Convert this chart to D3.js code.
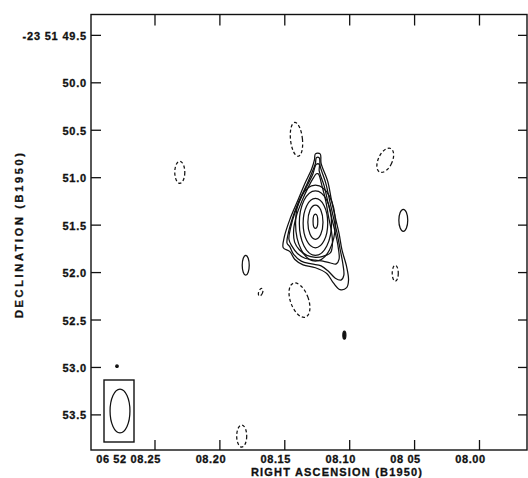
<!DOCTYPE html>
<html>
<head>
<meta charset="utf-8">
<script src="https://cdn.jsdelivr.net/npm/d3@7"></script>
<style>
  body { margin: 0; background: #fff; }
  svg { display: block; }
  text { font-family: "Liberation Sans", Arial, sans-serif; font-weight: bold; fill: #111; stroke: #111; stroke-width: 0.3; }
  .frame { fill: none; stroke: #111; stroke-width: 1.4; }
  .tick { stroke: #111; stroke-width: 1.3; }
  .pos { fill: none; stroke: #111; stroke-width: 1.25; }
  .neg { fill: none; stroke: #111; stroke-width: 1.25; stroke-dasharray: 3.2 2.4; }
</style>
</head>
<body>
<svg id="map" width="528" height="478"></svg>
<script>
// RA in seconds of 06h52m, Dec in arcsec of -23d51m
const raTicks = [8.25, 8.20, 8.15, 8.10, 8.05, 8.00];
const raTickLabels = ["06 52 08.25", "08.20", "08.15", "08.10", "08 05", "08.00"];
const decTicks = [49.5, 50.0, 50.5, 51.0, 51.5, 52.0, 52.5, 53.0, 53.5];
const decTickLabels = ["-23 51 49.5", "50.0", "50.5", "51.0", "51.5", "52.0", "52.5", "53.0", "53.5"];

const peak = {ra: 8.1264, dec: 51.459};

// outer contours of the source, offsets from peak in arcsec [west, south]
const sourceContours = [
    [[0,-.71],[.05,-.71],[.06,-.61],[.13,-.42],[.17,-.22],[.21,-.04],[.25,.13],[.28,.30],[.33,.48],[.35,.62],[.33,.70],[.26,.72],[.19,.65],[.12,.55],[0,.49],[-.13,.46],[-.22,.40],[-.27,.32],[-.34,.28],[-.33,.17],[-.27,-.02],[-.19,-.21],[-.11,-.40],[-.04,-.55],[-.01,-.65]],
    [[.01,-.67],[.04,-.67],[.05,-.58],[.11,-.40],[.15,-.22],[.19,-.04],[.23,.13],[.26,.29],[.29,.45],[.30,.57],[.27,.62],[.21,.60],[.14,.53],[.06,.47],[-.04,.45],[-.15,.42],[-.23,.35],[-.27,.27],[-.30,.23],[-.29,.14],[-.24,-.04],[-.17,-.22],[-.09,-.39],[-.03,-.53],[0,-.61]],
    [[.01,-.60],[.04,-.60],[.04,-.53],[.09,-.38],[.13,-.21],[.17,-.04],[.21,.12],[.24,.27],[.25,.40],[.22,.45],[.16,.44],[.08,.42],[0,.41],[-.11,.39],[-.19,.34],[-.25,.26],[-.28,.19],[-.26,.06],[-.22,-.08],[-.15,-.25],[-.08,-.39],[-.03,-.49]],
    [[.01,-.50],[.03,-.50],[.07,-.37],[.11,-.21],[.14,-.04],[.17,.11],[.18,.23],[.16,.33],[.08,.37],[0,.38],[-.09,.36],[-.17,.30],[-.22,.22],[-.23,.09],[-.20,-.06],[-.14,-.22],[-.07,-.37],[-.02,-.46]]
];

// inner rings round the peak: offset south, semi-axes (arcsec)
const sourceRings = [
    {dy: .02, rx: .21, ry: .40},
    {dy: .02, rx: .17, ry: .34},
    {dy: .02, rx: .13, ry: .26},
    {dy: .01, rx: .08, ry: .18},
    {dy: 0, rx: .025, ry: .075}
];

// small isolated contours, semi-axes in arcsec, neg = dashed
const blobs = [
    {ra: 8.2309, dec: 50.943, rx: .053, ry: .116, angle: 0, neg: true},
    {ra: 8.1801, dec: 51.923, rx: .037, ry: .105, angle: 0, neg: false},
    {ra: 8.1686, dec: 52.207, rx: .021, ry: .042, angle: 20, neg: true},
    {ra: 8.1410, dec: 50.596, rx: .063, ry: .179, angle: -6, neg: true},
    {ra: 8.1387, dec: 52.291, rx: .095, ry: .190, angle: -20, neg: true},
    {ra: 8.1041, dec: 52.660, rx: .016, ry: .042, angle: 0, neg: false, filled: true},
    {ra: 8.0726, dec: 50.817, rx: .074, ry: .137, angle: 25, neg: true},
    {ra: 8.0587, dec: 51.449, rx: .047, ry: .116, angle: 0, neg: false},
    {ra: 8.0649, dec: 52.007, rx: .032, ry: .084, angle: 0, neg: true},
    {ra: 8.1832, dec: 53.723, rx: .053, ry: .116, angle: 0, neg: true},
    {ra: 8.2793, dec: 52.986, rx: .013, ry: .013, angle: 0, neg: false, filled: true}
];

const beam = {major: .46, minor: .21, pa: 0};

(function () {
    let svg = d3.select("#map");
    let left = 91, right = 527, top = 14.5, bottom = 450;

    let x = d3.scaleLinear().domain([8.2993, 7.9634]).range([left, right]);
    let y = d3.scaleLinear().domain([49.28, 53.87]).range([top, bottom]);

    let secPerArcsec = 1 / (15 * Math.cos((23 + 51 / 60) * Math.PI / 180));
    let pxPerArcsec = Math.abs(x(0) - x(secPerArcsec));
    let pxPerArcsecY = y(1) - y(0);

    svg.append("rect").attr("class", "frame")
        .attr("x", left).attr("y", top)
        .attr("width", right - left).attr("height", bottom - top);

    // ticks on all four sides, pointing inward
    let g = svg.append("g");
    raTicks.forEach(function (t) {
        g.append("line").attr("class", "tick")
            .attr("x1", x(t)).attr("x2", x(t)).attr("y1", top).attr("y2", top + 11);
        g.append("line").attr("class", "tick")
            .attr("x1", x(t)).attr("x2", x(t)).attr("y1", bottom).attr("y2", bottom - 10);
    });
    decTicks.forEach(function (t) {
        g.append("line").attr("class", "tick")
            .attr("x1", left).attr("x2", left + 10).attr("y1", y(t)).attr("y2", y(t));
        g.append("line").attr("class", "tick")
            .attr("x1", right).attr("x2", right - 9).attr("y1", y(t)).attr("y2", y(t));
    });

    g.selectAll("text.xl").data(raTicks).enter().append("text")
        .attr("x", function (d, i) { return i == 0 ? x(d) + 6 : x(d) - 9; })
        .attr("y", 463)
        .attr("text-anchor", function (d, i) { return i == 0 ? "end" : "middle"; })
        .attr("font-size", 11)
        .attr("letter-spacing", 0.6)
        .text(function (d, i) { return raTickLabels[i]; });

    g.selectAll("text.yl").data(decTicks).enter().append("text")
        .attr("x", 87)
        .attr("y", function (d) { return y(d) + 4.5; })
        .attr("text-anchor", "end")
        .attr("font-size", 11)
        .attr("letter-spacing", 0.8)
        .text(function (d, i) { return decTickLabels[i]; });

    svg.append("text")
        .attr("x", 251).attr("y", 475.5)
        .attr("font-size", 11)
        .attr("textLength", 171).attr("lengthAdjust", "spacing")
        .text("RIGHT ASCENSION (B1950)");

    svg.append("text")
        .attr("transform", "translate(23,318) rotate(-90)")
        .attr("font-size", 11)
        .attr("textLength", 165).attr("lengthAdjust", "spacing")
        .text("DECLINATION (B1950)");

    // source contours
    let line = d3.line()
        .x(function (d) { return x(peak.ra - d[0] * secPerArcsec); })
        .y(function (d) { return y(peak.dec + d[1]); })
        .curve(d3.curveCatmullRomClosed.alpha(0.5));

    let src = svg.append("g");
    src.selectAll("path").data(sourceContours).enter().append("path")
        .attr("class", "pos").attr("d", line);

    src.selectAll("ellipse").data(sourceRings).enter().append("ellipse")
        .attr("class", "pos")
        .attr("cx", x(peak.ra))
        .attr("cy", function (d) { return y(peak.dec + d.dy); })
        .attr("rx", function (d) { return d.rx * pxPerArcsec; })
        .attr("ry", function (d) { return d.ry * pxPerArcsecY; });

    svg.append("g").selectAll("ellipse").data(blobs).enter().append("ellipse")
        .attr("class", function (d) { return d.neg ? "neg" : "pos"; })
        .attr("transform", function (d) {
            return "translate(" + x(d.ra) + "," + y(d.dec) + ") rotate(" + d.angle + ")";
        })
        .attr("rx", function (d) { return d.rx * pxPerArcsec; })
        .attr("ry", function (d) { return d.ry * pxPerArcsecY; })
        .style("fill", function (d) { return d.filled ? "#111" : "none"; });

    // restoring beam in lower-left box
    let bx = left + 13, bw = 30, bh = 62, by = bottom - 8 - bh;
    svg.append("rect").attr("class", "frame")
        .attr("x", bx).attr("y", by).attr("width", bw).attr("height", bh);
    svg.append("ellipse").attr("class", "pos")
        .attr("transform", "translate(" + (bx + bw / 2 + 1) + "," + (by + bh / 2) + ") rotate(" + beam.pa + ")")
        .attr("rx", beam.minor / 2 * pxPerArcsec)
        .attr("ry", beam.major / 2 * pxPerArcsecY);
})();
</script>
</body>
</html>
